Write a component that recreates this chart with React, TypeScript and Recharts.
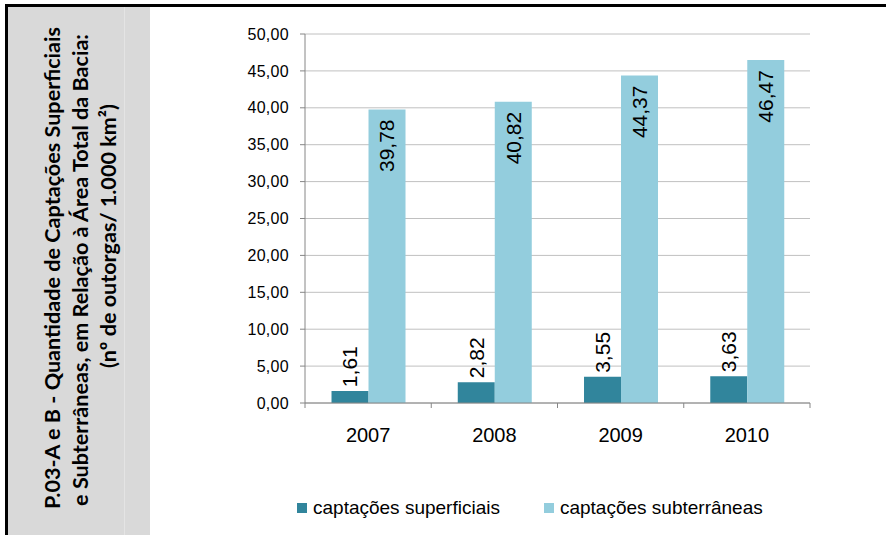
import React from 'react';
import { BarChart, Bar, XAxis, YAxis, CartesianGrid, Legend, LabelList } from 'recharts';

// Anos e valores do indicador (nº de outorgas por 1.000 km²)
const years = ['2007', '2008', '2009', '2010'];
const superficiais = [1.61, 2.82, 3.55, 3.63];
const subterraneas = [39.78, 40.82, 44.37, 46.47];
const yTicks = [0, 5, 10, 15, 20, 25, 30, 35, 40, 45, 50];
const seriesNames = ['captações superficiais', 'captações subterrâneas'];
const titleLines = [
  'P.03-A e B - Quantidade de Captações Superficiais',
  'e Subterrâneas, em Relação à Área Total da Bacia:',
  '(nº de outorgas/ 1.000 km²)',
];

const data = years.map((year, i) => ({
  year,
  sup: superficiais[i],
  sub: subterraneas[i],
}));

const DARK = '#31859c';
const LIGHT = '#93cddd';
const AXIS = '#868686';
const FONT = '"Liberation Sans", Arial, sans-serif';

const fmt = (v: number) => v.toFixed(2).replace('.', ',');

// Category tick: label in the middle, tick marks on the band edges
const CategoryTick = (props: any) => {
  const { x, y, payload, index, visibleTicksCount } = props;
  const half = payload && typeof payload.offset === 'number' ? payload.offset : 0;
  const isLast = index === (visibleTicksCount ?? years.length) - 1;
  return (
    <g>
      <line x1={x - half} x2={x - half} y1={y - 5} y2={y} stroke={AXIS} strokeWidth={1} />
      {isLast && (
        <line x1={x + half} x2={x + half} y1={y - 5} y2={y} stroke={AXIS} strokeWidth={1} />
      )}
      <text x={x} y={y + 34} textAnchor="middle" fontSize={20} fontFamily={FONT} fill="#000">
        {payload.value}
      </text>
    </g>
  );
};

// Value above the small bars, reading upwards
const OutsideLabel = (props: any) => {
  const { x, y, width, value } = props;
  const cx = x + width / 2;
  const ay = y - 4;
  return (
    <text
      x={cx}
      y={ay}
      transform={`rotate(-90 ${cx} ${ay})`}
      textAnchor="start"
      dy="0.35em"
      fontSize={21}
      fontFamily={FONT}
      fill="#000"
    >
      {fmt(value)}
    </text>
  );
};

// Value inside the top of the tall bars, reading upwards
const InsideLabel = (props: any) => {
  const { x, y, width, value } = props;
  const cx = x + width / 2;
  const ay = y + 10;
  return (
    <text
      x={cx}
      y={ay}
      transform={`rotate(-90 ${cx} ${ay})`}
      textAnchor="end"
      dy="0.35em"
      fontSize={21}
      fontFamily={FONT}
      fill="#000"
    >
      {fmt(value)}
    </text>
  );
};

const LegendContent = (props: any) => {
  const items = [...(props.payload || [])].sort(
    (a: any, b: any) => seriesNames.indexOf(a.value) - seriesNames.indexOf(b.value)
  );
  return (
    <div style={{ display: 'flex', alignItems: 'center', paddingLeft: 297, fontFamily: FONT }}>
      {items.map((item: any, i: number) => (
        <div
          key={i}
          style={{ display: 'flex', alignItems: 'center', marginRight: i === 0 ? 44 : 0 }}
        >
          <span style={{ width: 10, height: 10, background: item.color, display: 'inline-block', marginRight: 6 }} />
          <span style={{ fontSize: 19, color: '#000', lineHeight: '20px' }}>{item.value}</span>
        </div>
      ))}
    </div>
  );
};

// Centre of each title line along the vertical panel
const titleCentres = [268, 270, 236];

export default function App() {
  return (
    <div
      style={{
        position: 'absolute',
        left: 0,
        top: 0,
        width: 886,
        height: 535,
        background: '#fff',
        overflow: 'hidden',
      }}
    >
      <svg width={886} height={535} style={{ position: 'absolute', left: 0, top: 0 }}>
        <rect x={8} y={7} width={142} height={528} fill="#d9d9d9" />
        <rect x={124} y={7} width={1} height={528} fill="#e4e4e4" />
        <rect x={5} y={4} width={881} height={3} fill="#000" />
        <rect x={5} y={4} width={3} height={531} fill="#000" />
        {titleLines.map((line, i) => {
          const bx = 60 + i * 28;
          const cy = titleCentres[i];
          return (
            <text
              key={i}
              x={bx}
              y={cy}
              transform={`rotate(-90 ${bx} ${cy})`}
              textAnchor="middle"
              fontFamily="Lato, 'Open Sans', sans-serif"
              fontWeight={700}
              fontSize={21.6}
              fill="#000"
            >
              {line}
            </text>
          );
        })}
      </svg>
      <div style={{ position: 'absolute', left: 0, top: 0 }}>
        <BarChart
          width={886}
          height={535}
          data={data}
          margin={{ top: 34, right: 76, bottom: 92, left: 225 }}
          barCategoryGap="21%"
          barGap={0}
        >
          <CartesianGrid horizontal vertical={false} stroke="#c0c0c0" />
          <XAxis
            dataKey="year"
            height={40}
            interval={0}
            axisLine={{ stroke: AXIS }}
            tickLine={false}
            tickSize={5}
            tickMargin={0}
            tick={<CategoryTick />}
          />
          <YAxis
            width={80}
            domain={[0, 50]}
            ticks={yTicks}
            interval={0}
            tickFormatter={fmt}
            axisLine={{ stroke: AXIS }}
            tickLine={{ stroke: AXIS }}
            tickSize={5}
            tickMargin={11}
            tick={{ fontSize: 16, fill: '#000', fontFamily: FONT, letterSpacing: 0.3 }}
          />
          <Legend
            layout="horizontal"
            verticalAlign="middle"
            align="center"
            wrapperStyle={{ top: 498, left: 0, width: 886 }}
            content={<LegendContent />}
          />
          <Bar dataKey="sup" name={seriesNames[0]} fill={DARK} isAnimationActive={false}>
            <LabelList dataKey="sup" content={<OutsideLabel />} />
          </Bar>
          <Bar dataKey="sub" name={seriesNames[1]} fill={LIGHT} isAnimationActive={false}>
            <LabelList dataKey="sub" content={<InsideLabel />} />
          </Bar>
        </BarChart>
      </div>
    </div>
  );
}
